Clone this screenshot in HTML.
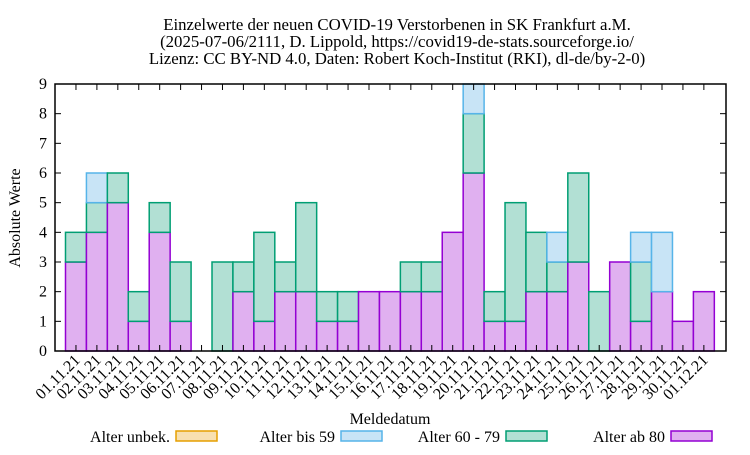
<!DOCTYPE html>
<html><head><meta charset="utf-8"><style>
body{margin:0;background:#fff}
svg text{font-family:"Liberation Serif",serif;fill:#000}
</style></head><body>
<svg id="s" width="750" height="450" xmlns="http://www.w3.org/2000/svg">
<text x="397" y="30" font-size="16.8" text-anchor="middle">Einzelwerte der neuen COVID-19 Verstorbenen in SK Frankfurt a.M.</text>
<text x="397" y="47" font-size="16.8" text-anchor="middle">(2025-07-06/2111, D. Lippold, https://covid19-de-stats.sourceforge.io/</text>
<text x="397" y="64" font-size="16.8" text-anchor="middle">Lizenz: CC BY-ND 4.0, Daten: Robert Koch-Institut (RKI), dl-de/by-2-0)</text>
<text transform="translate(20,218) rotate(-90)" font-size="16" text-anchor="middle">Absolute Werte</text>
<text x="390" y="424" font-size="16" text-anchor="middle">Meldedatum</text>
<g id="g"></g>
</svg>
<script>
var g=document.getElementById('g'),h='';
var d=[[3,1,0],[4,1,1],[5,1,0],[1,1,0],[4,1,0],[1,2,0],[0,0,0],[0,3,0],[2,1,0],[1,3,0],[2,1,0],[2,3,0],[1,1,0],[1,1,0],[2,0,0],[2,0,0],[2,1,0],[2,1,0],[4,0,0],[6,2,1],[1,1,0],[1,4,0],[2,2,0],[2,1,1],[3,3,0],[0,2,0],[3,0,0],[1,2,1],[2,0,2],[1,0,0],[2,0,0]];
var L=55,R=726,T=84,B=351,u=(B-T)/9,w=20.93,x0=65.5;
function y(v){return B-v*u}
for(var i=0;i<=9;i++){var yy=y(i);h+='<text x="47" y="'+(yy+5)+'" font-size="16" text-anchor="end">'+i+'</text>';
if(i>0&&i<9){h+='<line x1="'+L+'" y1="'+yy+'" x2="'+(L+6)+'" y2="'+yy+'" stroke="#000"/><line x1="'+R+'" y1="'+yy+'" x2="'+(R-6)+'" y2="'+yy+'" stroke="#000"/>';}}
var cols=[['#e0b0f0','#9400d3'],['#b2e0d4','#009e73'],['#c8e4f6','#56b4e9']];
for(var i=0;i<31;i++){var x=x0+w*i,c=x+w/2,b=0;
for(var k=0;k<3;k++){var v=d[i][k];if(v>0){h+='<rect x="'+x+'" y="'+y(b+v)+'" width="'+w+'" height="'+(v*u)+'" fill="'+cols[k][0]+'" stroke="'+cols[k][1]+'" stroke-width="1.5"/>';b+=v;}}
h+='<line x1="'+c+'" y1="'+B+'" x2="'+c+'" y2="'+(B-6)+'" stroke="#000"/><line x1="'+c+'" y1="'+T+'" x2="'+c+'" y2="'+(T+6)+'" stroke="#000"/>';
var day=i<30?('0'+(i+1)).slice(-2)+'.11.21':'01.12.21';
h+='<text transform="translate('+(c+5)+',361) rotate(-45)" font-size="16" text-anchor="end">'+day+'</text>';}
h+='<rect x="'+L+'" y="'+T+'" width="'+(R-L)+'" height="'+(B-T)+'" fill="none" stroke="#000" stroke-width="1.5"/>';
var lg=[['Alter unbek.','#f8e0b0','#e69f00',170],['Alter bis 59','#c8e4f6','#56b4e9',335],['Alter 60 - 79','#b2e0d4','#009e73',500],['Alter ab 80','#e0b0f0','#9400d3',665]];
lg.forEach(function(e){h+='<text x="'+e[3]+'" y="442" font-size="16" text-anchor="end">'+e[0]+'</text><rect x="'+(e[3]+6)+'" y="431" width="41" height="10" fill="'+e[1]+'" stroke="'+e[2]+'" stroke-width="1.5"/>';});
g.innerHTML=h;
</script>
</body></html>
